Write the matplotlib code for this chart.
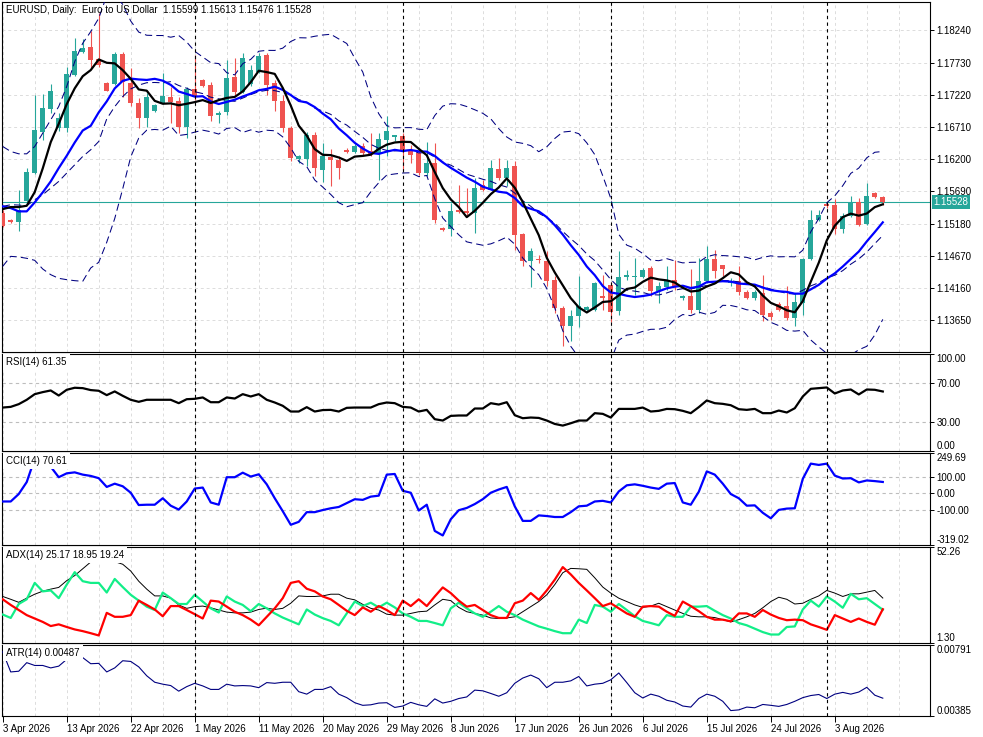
import numpy as np
import pandas as pd
import matplotlib
matplotlib.use("Agg")
import matplotlib.pyplot as plt

plt.rcParams["font.family"] = ["Liberation Sans", "DejaVu Sans"]

W, H = 983, 737

# EURUSD daily candles, bar 0 = 3 Apr 2026
opens = [
    1.15347, 1.15237, 1.15200, 1.15542, 1.15980, 1.16638, 1.17002, 1.16691, 1.16691, 1.17534,
    1.17903, 1.17972, 1.17782, 1.17403, 1.17392, 1.17866, 1.17403, 1.17086, 1.16849, 1.16955,
    1.17086, 1.17192, 1.17123, 1.16717, 1.17308, 1.17455, 1.17376, 1.16907, 1.16939, 1.17497,
    1.17271, 1.17392, 1.17587, 1.17851, 1.17403, 1.17128, 1.16691, 1.16201, 1.16201, 1.16586,
    1.16032, 1.16233, 1.16190, 1.16349, 1.16307, 1.16402, 1.16322, 1.16296, 1.16507, 1.16559,
    1.16570, 1.16349, 1.16296, 1.15980, 1.16138, 1.15105, 1.15094, 1.15389, 1.15374, 1.15347,
    1.15795, 1.15716, 1.16043, 1.15900, 1.16085, 1.15015, 1.14583, 1.14620, 1.14583, 1.14293,
    1.13845, 1.13566, 1.13724, 1.13819, 1.13808, 1.14030, 1.14214, 1.13792, 1.14330, 1.14330,
    1.14335, 1.14478, 1.14109, 1.14177, 1.14293, 1.14003, 1.14040, 1.13808, 1.14267, 1.14620,
    1.14520, 1.14241, 1.14277, 1.14093, 1.14003, 1.14082, 1.13766, 1.13914, 1.13882, 1.13687,
    1.13924, 1.14620, 1.15231, 1.15495, 1.15479, 1.15094, 1.15295, 1.15516, 1.15179, 1.15663,
    1.15599,
]
highs = [
    1.15389, 1.15258, 1.15716, 1.16059, 1.17218, 1.17229, 1.17387, 1.16928, 1.17666, 1.18124,
    1.18098, 1.18235, 1.18509, 1.17424, 1.17903, 1.17903, 1.17640, 1.17165, 1.17244, 1.17076,
    1.17571, 1.17340, 1.17192, 1.17340, 1.17851, 1.17476, 1.17429, 1.16955, 1.17771, 1.17798,
    1.17877, 1.17692, 1.17887, 1.17877, 1.17455, 1.17218, 1.16728, 1.16264, 1.16638, 1.16638,
    1.16454, 1.16359, 1.16243, 1.16375, 1.16444, 1.16454, 1.16612, 1.16612, 1.16876, 1.16586,
    1.16622, 1.16428, 1.16375, 1.16465, 1.16454, 1.15126, 1.15505, 1.15795, 1.15742, 1.15900,
    1.15874, 1.16190, 1.16217, 1.16190, 1.16164, 1.15031, 1.14794, 1.14689, 1.14741, 1.14346,
    1.13872, 1.13819, 1.14356, 1.13882, 1.14251, 1.14372, 1.14251, 1.14741, 1.14441, 1.14636,
    1.14478, 1.14504, 1.14251, 1.14504, 1.14610, 1.14056, 1.14462, 1.14636, 1.14831, 1.14768,
    1.14530, 1.14319, 1.14504, 1.14135, 1.14135, 1.14372, 1.13792, 1.13935, 1.14198, 1.14082,
    1.14636, 1.15389, 1.15389, 1.15516, 1.15569, 1.15347, 1.15611, 1.15584, 1.15822, 1.15674,
    1.15613,
]
lows = [
    1.15126, 1.15189, 1.15057, 1.15495, 1.15969, 1.16507, 1.16928, 1.16654, 1.16638, 1.17518,
    1.17887, 1.17640, 1.17666, 1.17277, 1.17376, 1.17192, 1.17034, 1.16691, 1.16717, 1.16939,
    1.17076, 1.16770, 1.16612, 1.16533, 1.17139, 1.17340, 1.16812, 1.16770, 1.16902, 1.17218,
    1.17244, 1.17361, 1.17571, 1.17218, 1.16955, 1.16638, 1.16164, 1.16138, 1.16085, 1.15927,
    1.15832, 1.15769, 1.15885, 1.16296, 1.16296, 1.16270, 1.16243, 1.15874, 1.16243, 1.16480,
    1.16032, 1.16138, 1.15953, 1.15938, 1.15189, 1.15063, 1.14989, 1.15347, 1.15321, 1.15031,
    1.15690, 1.15706, 1.15874, 1.15769, 1.14768, 1.14504, 1.14177, 1.14557, 1.14188, 1.13766,
    1.13239, 1.13318, 1.13545, 1.13792, 1.13792, 1.13819, 1.13619, 1.13740, 1.14293, 1.14056,
    1.14319, 1.14030, 1.13924, 1.14135, 1.14135, 1.13977, 1.13766, 1.13766, 1.14241, 1.14319,
    1.14346, 1.14188, 1.14056, 1.13988, 1.13977, 1.13634, 1.13650, 1.13792, 1.13650, 1.13555,
    1.13740, 1.14610, 1.15216, 1.15426, 1.15021, 1.15031, 1.15284, 1.15136, 1.15163, 1.15584,
    1.15476,
]
closes = [
    1.15136, 1.15205, 1.15400, 1.15990, 1.16665, 1.17007, 1.17287, 1.16849, 1.17550, 1.17914,
    1.17966, 1.17771, 1.17692, 1.17287, 1.17866, 1.17429, 1.17086, 1.16849, 1.17192, 1.17060,
    1.17202, 1.17113, 1.16702, 1.17308, 1.17192, 1.17361, 1.16886, 1.16928, 1.17482, 1.17271,
    1.17798, 1.17613, 1.17835, 1.17376, 1.17128, 1.16691, 1.16217, 1.16243, 1.16586, 1.16059,
    1.16243, 1.16190, 1.16059, 1.16312, 1.16402, 1.16296, 1.16285, 1.16517, 1.16649, 1.16575,
    1.16349, 1.16270, 1.15980, 1.16138, 1.15242, 1.15084, 1.15374, 1.15368, 1.15347, 1.15742,
    1.15716, 1.16059, 1.15900, 1.16059, 1.15005, 1.14583, 1.14741, 1.14599, 1.14267, 1.13845,
    1.13566, 1.13724, 1.13872, 1.13861, 1.14241, 1.14003, 1.13777, 1.14335, 1.14372, 1.14356,
    1.14452, 1.14109, 1.14198, 1.14293, 1.14188, 1.14040, 1.13808, 1.14267, 1.14620, 1.14425,
    1.14462, 1.14277, 1.14093, 1.14003, 1.14093, 1.13740, 1.13703, 1.13819, 1.13687, 1.13935,
    1.14625, 1.15242, 1.15321, 1.15453, 1.15094, 1.15305, 1.15516, 1.15163, 1.15621, 1.15600,
    1.15528,
]

# oscillators
rsi = [
    44.8, 45.5, 48.3, 52.8, 58.6, 60.7, 62.4, 57.2, 63.1, 65.2,
    64.8, 62.8, 62.1, 57.6, 61.4, 56.9, 52.8, 50.7, 52.8, 52.8,
    52.8, 52.8, 49.3, 53.4, 53.8, 55.2, 50.3, 50.3, 55.2, 54.1,
    58.6, 56.2, 58.6, 52.8, 50.0, 46.6, 40.7, 40.7, 45.2, 40.7,
    42.2, 42.4, 40.7, 44.5, 44.8, 44.8, 44.8, 48.3, 50.0, 49.3,
    45.5, 44.8, 40.7, 42.4, 32.8, 31.4, 36.2, 36.6, 36.6, 43.8,
    43.8, 49.3, 47.9, 50.3, 36.9, 33.8, 34.5, 34.1, 31.4, 27.9,
    26.2, 28.6, 31.4, 31.4, 39.0, 38.3, 34.5, 43.4, 43.4, 43.4,
    44.8, 40.7, 41.4, 43.4, 43.1, 41.4, 39.0, 45.2, 52.1, 49.3,
    48.6, 47.2, 43.1, 42.4, 43.4, 39.0, 39.0, 41.7, 39.7, 44.1,
    56.2, 64.1, 64.8, 65.5, 59.3, 62.4, 63.4, 58.3, 63.4, 63.1,
    61.35,
]
cci = [
    -50, -50, -4, 70, 215, 249.7, 165, 100, 124, 130,
    116, 108, 94, 40, 60, 44, 4, -72, -70, -70,
    -30, -76, -100, -50, 30, 36, -56, -70, 100, 100,
    128, 104, 118, 56, -30, -110, -194, -176, -116, -116,
    -103, -92, -84, -60, -36, -40, -20, -14, 116, 120,
    16, 4, -106, -70, -232, -260, -160, -104, -90, -66,
    -36, 4, 24, 40, -80, -170, -170, -136, -140, -146,
    -146, -116, -80, -76, -50, -46, -56, 12, 50, 56,
    47, 36, 28, 60, 64, -56, -70, 10, 136, 116,
    60, -4, -30, -76, -74, -120, -154, -102, -94, -92,
    90, 184, 176, 184, 110, 92, 94, 68, 80, 76,
    70.61,
]
adx = [
    26.0, 24.5, 22.9, 25.1, 27.2, 28.8, 29.9, 30.8, 34.4, 37.1,
    40.7, 44.3, 46.7, 45.2, 44.5, 43.1, 39.5, 34.1, 29.9, 26.3,
    26.3, 25.1, 21.5, 19.7, 20.6, 20.9, 20.0, 18.8, 17.7, 17.3,
    17.3, 17.7, 19.1, 19.8, 19.1, 19.7, 22.4, 26.3, 26.0, 26.0,
    26.3, 27.2, 27.2, 25.1, 24.2, 21.8, 19.7, 18.8, 16.6, 16.1,
    16.1, 17.0, 17.9, 18.2, 21.5, 24.5, 23.8, 20.2, 17.9, 17.0,
    16.1, 14.6, 14.3, 14.6, 15.2, 17.9, 20.6, 23.3, 26.9, 32.3,
    38.6, 40.9, 40.7, 40.4, 35.9, 31.0, 27.8, 25.1, 23.3, 21.5,
    20.2, 20.9, 22.4, 20.6, 18.8, 17.0, 15.5, 15.2, 15.2, 14.8,
    13.7, 12.5, 13.7, 15.2, 17.0, 20.0, 23.3, 25.6, 24.5, 22.0,
    22.4, 24.5, 26.3, 29.2, 27.8, 26.0, 27.4, 27.4, 28.3, 29.2,
    25.17,
]
plus_di = [
    16.4, 14.6, 22.0, 24.5, 33.2, 28.7, 29.2, 25.1, 32.3, 38.9,
    34.1, 33.2, 33.2, 28.1, 35.3, 31.0, 26.9, 23.8, 20.6, 18.8,
    28.1, 25.1, 22.0, 22.0, 26.9, 23.3, 19.7, 17.5, 26.0, 23.3,
    21.5, 18.2, 22.0, 19.7, 17.0, 14.8, 13.0, 11.2, 19.1, 16.4,
    14.5, 13.0, 10.7, 17.0, 23.3, 20.9, 22.7, 20.2, 22.7, 20.2,
    17.0, 15.2, 13.0, 13.0, 11.9, 10.7, 19.7, 22.7, 19.7, 17.0,
    15.2, 17.9, 20.9, 17.9, 16.1, 13.7, 11.9, 10.1, 8.9, 7.6,
    6.5, 6.5, 13.7, 11.9, 21.5, 20.6, 17.9, 22.0, 18.8, 15.5,
    13.0, 11.9, 10.7, 16.1, 15.2, 15.2, 20.6, 20.6, 20.9, 18.4,
    16.1, 14.3, 11.9, 10.7, 8.9, 7.1, 5.8, 5.8, 9.8, 10.1,
    19.1, 23.8, 20.6, 26.0, 23.3, 20.0, 27.4, 24.5, 25.1, 22.0,
    18.95,
]
minus_di = [
    24.5, 21.5, 18.8, 16.1, 14.3, 12.5, 10.3, 11.2, 9.8, 8.5,
    7.6, 6.5, 5.3, 17.3, 15.2, 15.2, 16.1, 23.8, 21.5, 19.1,
    15.5, 20.9, 20.9, 18.8, 16.6, 14.3, 23.8, 23.3, 20.6, 17.9,
    16.1, 13.7, 10.7, 15.2, 19.7, 25.1, 33.2, 34.1, 30.1, 28.7,
    26.0, 24.5, 21.5, 18.4, 16.1, 20.2, 17.9, 20.9, 18.8, 16.1,
    23.8, 20.9, 24.5, 20.9, 26.0, 30.8, 27.8, 23.8, 20.6, 21.5,
    18.8, 16.1, 14.6, 14.6, 22.4, 23.8, 27.8, 24.2, 29.2, 34.9,
    41.6, 37.7, 33.2, 29.2, 25.1, 20.9, 22.4, 19.7, 17.0, 15.2,
    20.6, 20.9, 20.6, 17.9, 15.7, 23.3, 20.9, 18.2, 15.2, 13.7,
    13.7, 12.8, 17.0, 17.0, 15.2, 18.8, 16.4, 14.6, 13.4, 13.7,
    13.4, 11.2, 9.8, 8.3, 16.1, 14.3, 12.5, 14.3, 12.5, 11.0,
    19.24,
]
atr = [
    0.00752, 0.00637, 0.00641, 0.00690, 0.00674, 0.00674, 0.00660, 0.00670, 0.00709, 0.00719,
    0.00719, 0.00684, 0.00686, 0.00637, 0.00660, 0.00701, 0.00697, 0.00666, 0.00615, 0.00578,
    0.00567, 0.00559, 0.00527, 0.00553, 0.00572, 0.00557, 0.00537, 0.00537, 0.00567, 0.00557,
    0.00559, 0.00557, 0.00547, 0.00576, 0.00572, 0.00578, 0.00578, 0.00524, 0.00510, 0.00537,
    0.00537, 0.00553, 0.00510, 0.00490, 0.00461, 0.00446, 0.00449, 0.00459, 0.00461, 0.00434,
    0.00442, 0.00463, 0.00449, 0.00440, 0.00483, 0.00459, 0.00469, 0.00485, 0.00494, 0.00533,
    0.00529, 0.00514, 0.00498, 0.00518, 0.00572, 0.00602, 0.00619, 0.00598, 0.00547, 0.00578,
    0.00578, 0.00586, 0.00611, 0.00557, 0.00567, 0.00572, 0.00592, 0.00631, 0.00576, 0.00518,
    0.00488, 0.00510, 0.00498, 0.00475, 0.00465, 0.00442, 0.00436, 0.00485, 0.00510, 0.00498,
    0.00469, 0.00416, 0.00420, 0.00436, 0.00432, 0.00451, 0.00446, 0.00440, 0.00451, 0.00469,
    0.00490, 0.00502, 0.00508, 0.00485, 0.00510, 0.00520, 0.00510, 0.00522, 0.00549, 0.00504,
    0.00487,
]

# averages before the window is full (history left of the chart)
sma5_start = [1.15410, 1.15442, 1.15442, 1.15463]
sma12_start = [1.15453, 1.15426, 1.15374, 1.15374, 1.15516, 1.15674, 1.15848,
               1.16059, 1.16254, 1.16464, 1.16654]
bb_mid_start = [1.15453, 1.15479, 1.15474, 1.15463, 1.15558, 1.15637, 1.15742,
                1.15848, 1.15980, 1.16111, 1.16243, 1.16349, 1.16480]
bb_up_start = [1.16401, 1.16322, 1.16285, 1.16285, 1.16401, 1.16612, 1.16823,
               1.17034, 1.17350, 1.17745, 1.18035, 1.18219, 1.18430]
bb_low_start = [1.14504, 1.14662, 1.14652, 1.14631, 1.14599, 1.14462, 1.14372,
                1.14314, 1.14293, 1.14277, 1.14267, 1.14478, 1.14568]

date_ticks = [0, 8, 16, 24, 32, 40, 48, 56, 64, 72, 80, 88, 96, 104]
date_labels = ["3 Apr 2026", "13 Apr 2026", "22 Apr 2026", "1 May 2026", "11 May 2026",
               "20 May 2026", "29 May 2026", "8 Jun 2026", "17 Jun 2026", "26 Jun 2026",
               "6 Jul 2026", "15 Jul 2026", "24 Jul 2026", "3 Aug 2026"]
month_starts = [24, 50, 76, 103]
price_ticks = [1.18240, 1.17730, 1.17220, 1.16710, 1.16200, 1.15690, 1.15180,
               1.14670, 1.14160, 1.13650]

GREEN = "#26a69a"
RED = "#ef5350"
NAVY = "#000080"
GRID = "#dcdcdc"
LEVEL = "#bdbdbd"

close = pd.Series(closes)
sma5 = close.rolling(5).mean()
sma5.iloc[:4] = sma5_start
sma12 = close.rolling(12).mean()
sma12.iloc[:11] = sma12_start
bb_mid = close.rolling(14).mean()
bb_sd = close.rolling(14).std(ddof=0)
bb_up = bb_mid + 2 * bb_sd
bb_low = bb_mid - 2 * bb_sd
bb_mid.iloc[:13] = bb_mid_start
bb_up.iloc[:13] = bb_up_start
bb_low.iloc[:13] = bb_low_start

x = np.arange(len(closes))
fig = plt.figure(figsize=(W / 100, H / 100), dpi=100)


def panel(top, bottom):
    ax = fig.add_axes([2 / W, 1 - bottom / H, 928 / W, (bottom - top) / H])
    ax.set_xlim(-0.09, 115.9)
    for s in ax.spines.values():
        s.set_linewidth(0.8)
    ax.yaxis.tick_right()
    ax.tick_params(axis="y", direction="out", length=3, width=0.7, pad=1.5, labelsize=7)
    ax.tick_params(axis="x", bottom=False, labelbottom=False)
    for gx in range(0, 116, 4):
        ax.axvline(gx, color=GRID, lw=0.7, ls=(0, (3, 3)), zorder=0)
    for mx in month_starts:
        ax.axvline(mx, color="black", lw=0.8, ls=(0, (3, 3)), zorder=6)
    return ax


def tag(ax, text, box=True):
    ax.annotate(text, xy=(0, 1), xycoords="axes fraction", xytext=(3, -2.5),
                textcoords="offset points", ha="left", va="top", fontsize=7, zorder=10,
                bbox=dict(fc="white", ec="none", pad=2.2) if box else None)


def edge_ticks(ax, ticks, labels):
    ax.set_yticks(ticks)
    ax.set_yticklabels(labels)
    tl = ax.get_yticklabels()
    tl[0].set_va("top")
    tl[-1].set_va("bottom")


# main chart
ax = panel(2, 352)
ax.set_ylim(1.13148, 1.18688)
for p in price_ticks:
    ax.axhline(p, color=GRID, lw=0.7, ls=(0, (3, 3)), zorder=0)
ax.set_yticks(price_ticks)
ax.set_yticklabels([f"{p:.5f}" for p in price_ticks])

o, h, l, c = map(np.array, (opens, highs, lows, closes))
cols = np.where(c >= o, GREEN, RED)
ax.vlines(x, l, h, colors=cols, lw=0.8, zorder=3)
ax.bar(x, np.maximum(np.abs(c - o), 0.00012), bottom=np.minimum(o, c), width=0.62,
       color=cols, lw=0, zorder=4)

for band in (bb_up, bb_mid, bb_low):
    ax.plot(x, band, color=NAVY, lw=0.75, ls=(0, (7, 4)), zorder=5)
ax.plot(x, sma12, color="#0000ff", lw=1.6, zorder=5)
ax.plot(x, sma5, color="black", lw=1.6, zorder=5)

ax.axhline(closes[-1], color=GREEN, lw=0.8, zorder=2)
ax.annotate(f"{closes[-1]:.5f}", xy=(1, closes[-1]), xycoords=("axes fraction", "data"),
            xytext=(2.5, 0), textcoords="offset points", ha="left", va="center",
            fontsize=7, color="white", annotation_clip=False,
            bbox=dict(boxstyle="square,pad=0.2", fc=GREEN, ec="none"))
tag(ax, "EURUSD, Daily:  Euro to US Dollar  1.15599 1.15613 1.15476 1.15528", box=False)

# RSI
ax = panel(354, 451)
ax.set_ylim(0, 100)
for lv in (70, 30):
    ax.axhline(lv, color=LEVEL, lw=0.8, ls=(0, (3, 3)), zorder=1)
ax.plot(x, rsi, color="black", lw=1.6, zorder=5)
edge_ticks(ax, [100, 70, 30, 0], ["100.00", "70.00", "30.00", "0.00"])
tag(ax, "RSI(14) 61.35")

# CCI
ax = panel(453, 545)
ax.set_ylim(-319.02, 249.69)
for lv in (100, 0, -100):
    ax.axhline(lv, color=LEVEL, lw=0.8, ls=(0, (3, 3)), zorder=1)
ax.plot(x, cci, color="#0000ff", lw=1.6, zorder=5)
edge_ticks(ax, [249.69, 100, 0, -100, -319.02],
           ["249.69", "100.00", "0.00", "-100.00", "-319.02"])
tag(ax, "CCI(14) 70.61")

# ADX
ax = panel(547, 643)
ax.set_ylim(1.30, 52.26)
ax.plot(x, adx, color="black", lw=0.7, zorder=5)
ax.plot(x, plus_di, color="#12ee88", lw=1.6, zorder=5)
ax.plot(x, minus_di, color="#ff0000", lw=1.6, zorder=5)
edge_ticks(ax, [52.26, 1.30], ["52.26", "1.30"])
tag(ax, "ADX(14) 25.17 18.95 19.24")

# ATR
ax = panel(645, 716)
ax.set_ylim(0.00385, 0.00791)
ax.plot(x, atr, color=NAVY, lw=0.8, zorder=5)
edge_ticks(ax, [0.00791, 0.00385], ["0.00791", "0.00385"])
tag(ax, "ATR(14) 0.00487")
ax.set_xticks(date_ticks)
ax.set_xticklabels(date_labels, ha="left")
ax.tick_params(axis="x", bottom=True, labelbottom=True, direction="out", length=4,
               width=0.7, pad=2, labelsize=7)

fig.savefig("out.png", dpi=100, facecolor="white")
